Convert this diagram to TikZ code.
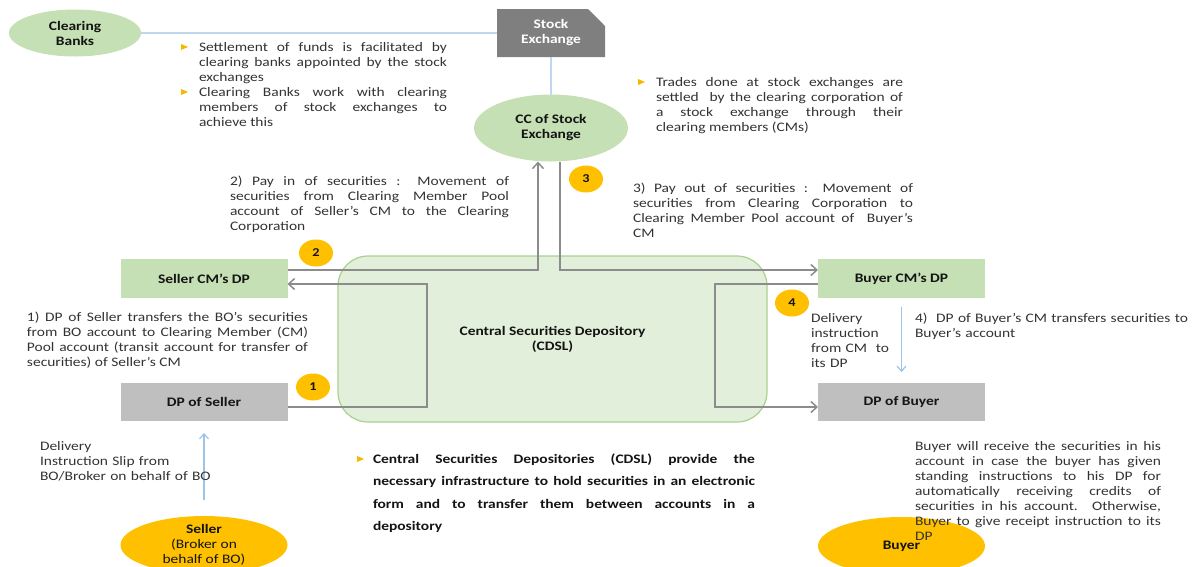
\documentclass[tikz,border=0pt]{standalone}
\usepackage{fontspec}
\setmainfont{Carlito}[FakeStretch=1.19]
\usetikzlibrary{shapes.geometric,shapes.misc,arrows.meta}
\definecolor{lgreen}{HTML}{C5E0B4}
\definecolor{cdfill}{HTML}{E2EFDA}
\definecolor{cdline}{HTML}{A9D18E}
\definecolor{lgrey}{HTML}{BFBFBF}
\definecolor{dgrey}{HTML}{7F7F7F}
\definecolor{orng}{HTML}{FFC000}
\definecolor{conncol}{HTML}{8C8C8C}
\definecolor{blu}{HTML}{9DC3E6}
\definecolor{txt}{HTML}{333333}
\definecolor{lbltxt}{HTML}{141414}
\definecolor{bulcol}{HTML}{F5B800}
\begin{document}
\begin{tikzpicture}[x=1pt,y=-1pt,
  every node/.style={inner sep=0pt,outer sep=0pt},
  bodytext/.style={font=\fontsize{13}{15}\selectfont, text=txt, anchor=base west, align=justify, execute at begin node={\tolerance=9999 }},
  lbl/.style={font=\fontsize{13}{15}\selectfont\bfseries, text=lbltxt, align=center},
  gbox/.style={rectangle, fill=lgreen, minimum width=167pt, minimum height=39pt},
  gybox/.style={rectangle, fill=lgrey, minimum width=167pt, minimum height=38pt},
  num/.style={ellipse, fill=orng, minimum width=34pt, minimum height=27pt, font=\fontsize{12}{12}\selectfont\bfseries, text=lbltxt},
  conn/.style={draw=conncol, line width=1.5pt},
  arr/.style={-{Straight Barb[length=6pt,width=11pt]}},
  bline/.style={draw=blu, line width=1.2pt},
  barr/.style={-{Straight Barb[length=5pt,width=9pt]}},
  bul/.style={isosceles triangle, isosceles triangle stretches, fill=bulcol, minimum width=6pt, minimum height=7pt}
]
\useasboundingbox (0,0) rectangle (1203,566);

% central depository
\node[rectangle, rounded corners=30pt, draw=cdline, line width=1.2pt, fill=cdfill, minimum width=429pt, minimum height=166pt,
  label={[lbl]center:Central Securities Depository\\(CDSL)}] (cdsl) at (552.5,339) {};

% top nodes
\node[ellipse, fill=lgreen, minimum width=132pt, minimum height=47pt, label={[lbl]center:Clearing\\Banks}] (cb) at (75,33) {};
\node[chamfered rectangle, chamfered rectangle corners=north east, chamfered rectangle xsep=9pt, chamfered rectangle ysep=8pt,
  fill=dgrey, minimum width=108pt, minimum height=48pt, lbl, text=white] (se) at (551,33) {Stock\\Exchange};
\node[ellipse, fill=lgreen, minimum width=154pt, minimum height=67pt, label={[lbl]center:CC of Stock\\Exchange}] (cc) at (551,128) {};

% DP boxes
\node[gbox,lbl] (scm) at (204,278.5) {Seller CM’s DP};
\node[gbox,lbl] (bcm) at (901.5,278.5) {Buyer CM’s DP};
\node[gybox,lbl] (dps) at (204,402) {DP of Seller};
\node[gybox,lbl] (dpb) at (901.5,402) {DP of Buyer};

% bottom ellipses
\node[ellipse, fill=orng, minimum width=167pt, minimum height=58pt,
  label={[lbl]center:Seller\\\mdseries(Broker on\\\mdseries behalf of BO)}] (seller) at (204,545) {};
\node[ellipse, fill=orng, minimum width=167pt, minimum height=58pt, label={[lbl]center:Buyer}] (buyer) at (901.5,546) {};

% connectors
\draw[bline] (cb) -- (se);
\draw[bline] (se) -- (cc);
\draw[conn,arr] ([yshift=8.5pt]scm.east) -| ([xshift=-13pt]cc.south);
\draw[conn,arr] ([xshift=9pt]cc.south) |- ([yshift=8.5pt]bcm.west);
\coordinate (kl) at (427,340);
\coordinate (kr) at (715,340);
\draw[conn,arr] ([yshift=-5pt]dps.east) -| (kl) |- ([yshift=-5.5pt]scm.east);
\draw[conn,arr] ([yshift=-5.5pt]bcm.west) -| (kr) |- ([yshift=-5pt]dpb.west);
\draw[bline,barr,shorten <=16pt,shorten >=12pt] (seller) -- (dps);
\draw[bline,barr,shorten <=9pt,shorten >=11pt] (bcm) -- (dpb);

% numbers
\node[num] (n1) at (313,387) {1};
\node[num] (n2) at (316,253) {2};
\node[num] (n3) at (586,179) {3};
\node[num] (n4) at (792,303) {4};

% texts
\node[bul] (m1a) at (183,47) {};
\node[bodytext, text width=248pt] (t1a) at (199,51) {Settlement of funds is facilitated by\linebreak clearing banks appointed by the stock\linebreak exchanges};
\node[bul] (m1b) at (183,92) {};
\node[bodytext, text width=248pt] (t1b) at (199,96) {Clearing Banks work with clearing\linebreak members of stock exchanges to\linebreak achieve this};
\node[bul] (mr) at (640,82) {};
\node[bodytext, text width=247pt] (tr) at (656,86) {Trades done at stock exchanges are\linebreak settled\ \ by the clearing corporation of\linebreak a stock exchange through their\linebreak clearing members (CMs)};
\node[bodytext, text width=279pt] (t2) at (230,185) {2) Pay in of securities : Movement of\linebreak securities from Clearing Member Pool\linebreak account of Seller’s CM to the Clearing\linebreak Corporation};
\node[bodytext, text width=280pt] (t3) at (633,192) {3) Pay out of securities : Movement of\linebreak securities from Clearing Corporation to\linebreak Clearing Member Pool account of\ \ Buyer’s\linebreak CM};
\node[bodytext, text width=281pt] (t1) at (27,321) {1) DP of Seller transfers the BO’s securities\linebreak from BO account to Clearing Member (CM)\linebreak Pool account (transit account for transfer of\linebreak securities) of Seller’s CM};
\node[bodytext, text width=200pt, align=left] (dl) at (40,450) {Delivery\\Instruction Slip from\\BO/Broker on behalf of BO};
\node[bodytext, text width=90pt, align=left] (dr) at (811,322) {Delivery\\instruction\\from CM\ \ to\\its DP};
\node[bodytext, text width=285pt, align=left] (t4) at (915,322) {4)\ \ DP of Buyer’s CM transfers securities to\\Buyer’s account};
\node[bodytext, text width=246pt] (tb) at (915,450) {Buyer will receive the securities in his\linebreak account in case the buyer has given\linebreak standing instructions to his DP for\linebreak automatically receiving credits of\linebreak securities in his account. Otherwise,\linebreak Buyer to give receipt instruction to its\linebreak DP};
\node[bul] (mc) at (359,459) {};
\node[bodytext, text width=382pt, font=\fontsize{13}{22.6}\selectfont\bfseries, text=lbltxt] (tc) at (373,463) {Central Securities Depositories (CDSL) provide the\linebreak necessary infrastructure to hold securities in an electronic\linebreak form and to transfer them between accounts in a\linebreak depository};
\end{tikzpicture}
\end{document}
